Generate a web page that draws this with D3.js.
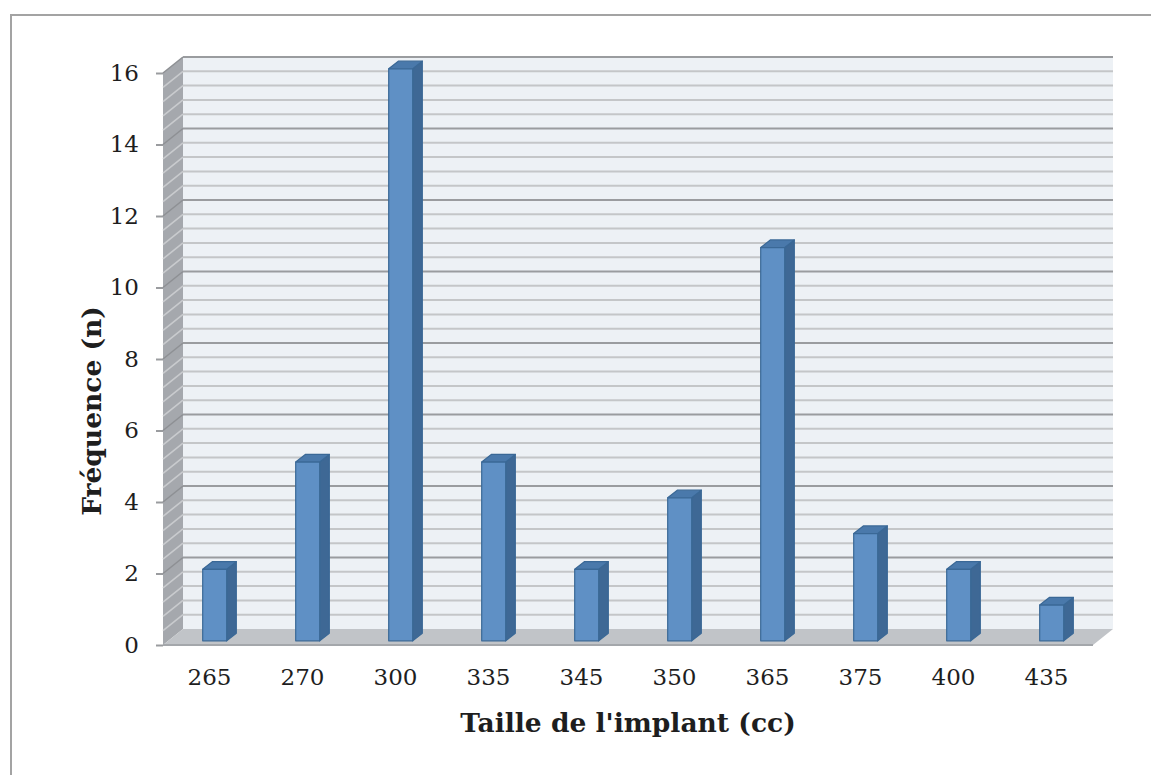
<!DOCTYPE html>
<html>
<head>
<meta charset="utf-8">
<script src="https://cdn.jsdelivr.net/npm/d3@7"></script>
<style>
  html, body { margin: 0; padding: 0; background: #ffffff; }
  svg { display: block; }
</style>
</head>
<body>
<svg id="chart" width="1151" height="775"></svg>
<script>
// Implant sizes (cc) and how many times each was used
const categories = ["265", "270", "300", "335", "345", "350", "365", "375", "400", "435"];
const frequencies = [2, 5, 16, 5, 2, 4, 11, 3, 2, 1];
const yTicks = [0, 2, 4, 6, 8, 10, 12, 14, 16];
const xTitle = "Taille de l'implant (cc)";
const yTitle = "Fréquence (n)";

const svg = d3.select("#chart");
const W = 1151, H = 775;

// outer frame
svg.append("path")
  .attr("d", `M11,${H} L11,15 L${W},15`)
  .attr("fill", "none")
  .attr("stroke", "#a3a3a3")
  .attr("stroke-width", 2);

// front plane of the 3-D box
const x0 = 163, x1 = 1093;
const y = d3.scaleLinear().domain([0, 16]).range([645, 73]);
const x = d3.scaleBand().domain(categories).range([x0, x1]);

// depth offset of the box (z from 0 at front to 1 at back)
const DX = 20, DY = -16;
const P = (px, py, z) => [px + DX * z, py + DY * z];
const poly = pts => "M" + pts.map(p => p.join(",")).join("L") + "Z";

const g = svg.append("g");

// back wall
g.append("path")
  .attr("d", poly([P(x0, y(16), 1), P(x1, y(16), 1), P(x1, y(0), 1), P(x0, y(0), 1)]))
  .attr("fill", "#edf1f5");

// side wall
g.append("path")
  .attr("d", poly([P(x0, y(16), 0), P(x0, y(16), 1), P(x0, y(0), 1), P(x0, y(0), 0)]))
  .attr("fill", "#a5a8ad");

// gridlines: minor every 0.4, major every 2
const minor = d3.range(0.4, 16, 0.4).filter(v => Math.abs(v / 2 - Math.round(v / 2)) > 1e-6);
minor.forEach(v => {
  const a = P(x0, y(v), 0), b = P(x0, y(v), 1), c = P(x1, y(v), 1);
  g.append("path").attr("d", `M${a}L${b}`).attr("stroke", "#c9cbce").attr("stroke-width", 1.6).attr("fill", "none");
  g.append("path").attr("d", `M${b}L${c}`).attr("stroke", "#c4c6c8").attr("stroke-width", 2).attr("fill", "none");
});
yTicks.filter(v => v > 0).forEach(v => {
  const a = P(x0, y(v), 0), b = P(x0, y(v), 1), c = P(x1, y(v), 1);
  g.append("path").attr("d", `M${a}L${b}`).attr("stroke", "#8e9094").attr("stroke-width", 1.6).attr("fill", "none");
  g.append("path").attr("d", `M${b}L${c}`).attr("stroke", "#9a9c9f").attr("stroke-width", 2).attr("fill", "none");
});

// floor
g.append("path")
  .attr("d", poly([P(x0, y(0), 0), P(x0, y(0), 1), P(x1, y(0), 1), P(x1, y(0), 0)]))
  .attr("fill", "#c1c4c8");
g.append("path")
  .attr("d", `M${P(x0, y(0), 0)}L${P(x1, y(0), 0)}`)
  .attr("stroke", "#a4a7ab").attr("stroke-width", 2).attr("fill", "none");

// bars (front face at z=0.26, back at z=0.74)
const zf = 0.26, zb = 0.74;
const barW = 24;
const bars = g.append("g");
categories.forEach((c, i) => {
  const v = frequencies[i];
  const cx = x(c) + x.bandwidth() / 2;
  const l = cx - barW / 2, r = cx + barW / 2;
  const top = y(v), bot = y(0);
  const bg = bars.append("g").attr("stroke", "#3a6896").attr("stroke-width", 1.2).attr("stroke-linejoin", "round");
  // right side
  bg.append("path")
    .attr("d", poly([P(r, top, zf), P(r, top, zb), P(r, bot, zb), P(r, bot, zf)]))
    .attr("fill", "#3e6895");
  // top
  bg.append("path")
    .attr("d", poly([P(l, top, zf), P(l, top, zb), P(r, top, zb), P(r, top, zf)]))
    .attr("fill", "#4a79ab");
  // front
  bg.append("path")
    .attr("d", poly([P(l, top, zf), P(r, top, zf), P(r, bot, zf), P(l, bot, zf)]))
    .attr("fill", "#5f90c5");
});

// y axis
const yAxis = svg.append("g")
  .attr("transform", `translate(${x0},0)`)
  .call(d3.axisLeft(y).tickValues(yTicks).tickSize(7).tickPadding(17).tickFormat(d3.format("d")));
yAxis.select(".domain").remove();
yAxis.selectAll(".tick line").attr("stroke", "#9a9c9f").attr("stroke-width", 2);
yAxis.selectAll(".tick text")
  .attr("font-family", "'DejaVu Serif', serif")
  .attr("font-size", 23)
  .attr("fill", "#1e1e1e");

// x axis
const xAxis = svg.append("g")
  .attr("transform", `translate(0,${y(0)})`)
  .call(d3.axisBottom(x).tickSize(0).tickPadding(24));
xAxis.select(".domain").remove();
xAxis.selectAll(".tick text")
  .attr("font-family", "'DejaVu Serif', serif")
  .attr("font-size", 23)
  .attr("fill", "#1e1e1e");

// axis titles
svg.append("text")
  .attr("x", 628).attr("y", 732)
  .attr("text-anchor", "middle")
  .attr("font-family", "'DejaVu Serif', serif")
  .attr("font-weight", "bold")
  .attr("font-size", 26.5)
  .attr("fill", "#1e1e1e")
  .text(xTitle);

svg.append("text")
  .attr("transform", "translate(101,411) rotate(-90)")
  .attr("text-anchor", "middle")
  .attr("font-family", "'DejaVu Serif', serif")
  .attr("font-weight", "bold")
  .attr("font-size", 26.5)
  .attr("fill", "#1e1e1e")
  .text(yTitle);
</script>
</body>
</html>
